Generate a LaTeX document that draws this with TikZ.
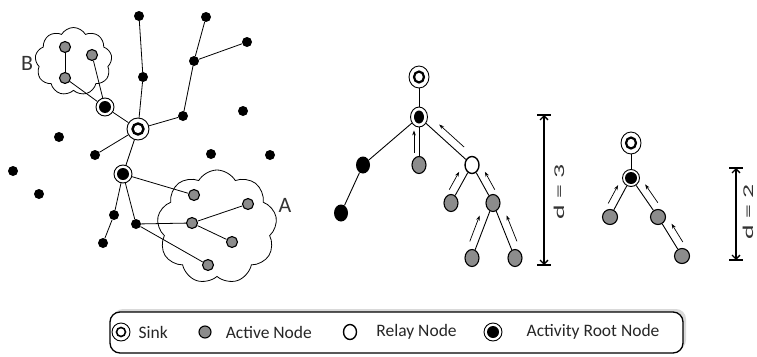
\documentclass[tikz,border=0pt]{standalone}
\usepackage{fontspec}
\setmainfont{Carlito}
\usetikzlibrary{arrows.meta, positioning, calc, shapes.geometric, shapes.symbols, shadows}

\begin{document}
\begin{tikzpicture}[
    x=1pt, y=-1pt,
    every node/.style={text=labelcolor},
    blk/.style={circle, fill=black, inner sep=0pt, minimum size=10pt},
    act/.style={circle, draw=black, fill=actgray, line width=1.1pt, inner sep=0pt, minimum size=11pt},
    relay/.style={ellipse, draw=black, fill=white, line width=1.4pt, inner sep=0pt,
        minimum width=14pt, minimum height=17pt},
    sink/.style={circle, draw=black, fill=white, line width=0.9pt, inner sep=0pt, minimum size=22pt,
        path picture={\draw[black, line width=2.4pt] (path picture bounding box.center) circle (5.5pt);}},
    root/.style={circle, draw=black, fill=white, line width=0.9pt, inner sep=0pt, minimum size=18pt,
        path picture={\fill[black] (path picture bounding box.center) circle (6pt);}},
    % tree nodes are a bit taller than wide
    tblk/.style={blk, ellipse, minimum width=14pt, minimum height=17pt},
    tact/.style={act, ellipse, minimum width=14pt, minimum height=17pt},
    tsink/.style={sink, ellipse, minimum width=20pt, minimum height=22pt,
        path picture={\draw[black, line width=2.2pt] (path picture bounding box.center) ellipse (5pt and 5.5pt);}},
    troot/.style={root, ellipse, minimum width=17pt, minimum height=20pt,
        path picture={\fill[black] (path picture bounding box.center) ellipse (5pt and 6.5pt);}},
    link/.style={line width=0.8pt},
    flow/.style={-{Stealth[length=5pt, width=3.6pt]}, line width=0.7pt},
    dimline/.style={{Straight Barb[length=4pt, width=8pt]}-{Straight Barb[length=4pt, width=8pt]},
        line width=1.3pt},
    grplbl/.style={font=\fontsize{22}{24}\selectfont},
    dimlbl/.style={font=\fontsize{15}{17}\selectfont, rotate=90, inner sep=0pt},
    ltxt/.style={font=\fontsize{17.5}{20}\selectfont, text=black!85, inner sep=0pt, anchor=west},
]

\definecolor{actgray}{HTML}{8C8C8C}   % active nodes
\definecolor{labelcolor}{HTML}{333333}

\useasboundingbox (0,0) rectangle (757,356);

% ================================================================
%   left: the whole field, sink in the middle, two groups A and B
%   middle: tree of group A with d = 3, right: tree of B with d = 2
% ================================================================

% ---------------------------------------------------------------- clouds
\node[cloud, cloud puffs=9, cloud puff arc=120, cloud ignores aspect, draw=black, line width=0.8pt,
    inner sep=0pt, minimum width=77pt, minimum height=68pt] (cloudB) at (73.5,61.5) {};
\node[cloud, cloud puffs=9, cloud puff arc=120, cloud ignores aspect, draw=black, line width=0.8pt,
    inner sep=0pt, minimum width=120pt, minimum height=114pt] (cloudA) at (217,227) {};
\node[grplbl] (labB) at (27,63) {B};
\node[grplbl] (labA) at (285,205) {A};

% ---------------------------------------------------------------- field
\foreach \n/\x/\y in {n1/139/16, n2/206/17, n3/247/42, n4/194/61, n5/143/77, n6/183/116,
    n7/243/111, n8/59/137, n9/95/155, n10/211/154, n11/270/155, n12/13/171,
    n13/39/194, n14/114/215, n15/136/224, n16/103/243} {
    \node[blk] (\n) at (\x,\y) {};
}
\foreach \n/\x/\y in {gB1/65/47, gB2/92/55, gB3/65/78,
    gA1/194/195, gA2/248/204, gA3/192/223, gA4/232/242, gA5/208/265} {
    \node[act] (\n) at (\x,\y) {};
}
\node[sink] (sink) at (138,129) {};
\node[root] (rootB) at (105,107) {};
\node[root] (rootA) at (123,174) {};

\foreach \a/\b in {n1/n5, n5/sink, n2/n4, n3/n4, n4/n6, n6/sink, sink/rootB,
    rootB/gB3, gB3/gB1, rootB/gB2, sink/n9, sink/rootA, rootA/gA1, rootA/n14,
    n14/n16, rootA/n15, n15/gA3, gA3/gA2, gA3/gA4, n15/gA5} {
    \draw[link] (\a) -- (\b);
}

% ---------------------------------------------------------------- tree of A
\node[tsink] (msink) at (419,77) {};
\node[troot] (mroot) at (419,117) {};
\node[tblk] (mb1) at (363,165) {};
\node[tblk] (mb2) at (341,213) {};
\node[tact] (mg) at (419,165) {};
\node[relay] (mrelay) at (472,165) {};
\node[tact] (mg1) at (451,203) {};
\node[tact] (mg2) at (493,203) {};
\node[tact] (mg3) at (472,258) {};
\node[tact] (mg4) at (515,258) {};

\foreach \a/\b in {msink/mroot, mroot/mb1, mb1/mb2, mroot/mg, mroot/mrelay,
    mrelay/mg1, mrelay/mg2, mg2/mg3, mg2/mg4} {
    \draw[link, line width=0.9pt] (\a) -- (\b);
}

% ---------------------------------------------------------------- tree of B
\node[tsink] (rsink) at (631,143) {};
\node[root, minimum size=17pt] (rroot) at (631,178) {};
\node[act, minimum size=15pt] (rg1) at (610,217) {};
\node[act, minimum size=15pt] (rg2) at (658,217) {};
\node[act, minimum size=15pt] (rg3) at (682,256) {};

\foreach \a/\b in {rsink/rroot, rroot/rg1, rroot/rg2, rg2/rg3} {
    \draw[link, line width=0.9pt] (\a) -- (\b);
}

% ---------------------------------------------------------------- reports towards the root
\foreach \a/\b/\d/\ang in {mg/mroot/5pt/90, mrelay/mroot/8pt/-90, mg1/mrelay/8pt/90,
    mg2/mrelay/8pt/-90, mg3/mg2/8pt/90, mg4/mg2/8pt/-90,
    rg1/rroot/8pt/90, rg2/rroot/8pt/-90, rg3/rg2/8pt/-90} {
    \draw[flow] ($(\a)!0.25!(\b)!\d!\ang:(\b)$) -- ($(\a)!0.72!(\b)!\d!\ang:(\b)$);
}

% ---------------------------------------------------------------- depths
\coordinate (d3top) at (544,115);
\coordinate (d3bot) at (544,265);
\draw[dimline] (d3top) -- (d3bot);
\draw[line width=1.3pt] ([xshift=-7pt]d3top) -- ([xshift=7pt]d3top);
\draw[line width=1.3pt] ([xshift=-7pt]d3bot) -- ([xshift=7pt]d3bot);
\node[dimlbl] (d3lbl) at (559,192) {\scalebox{1.85}[1]{d = 3}};

\coordinate (d2top) at (736,168);
\coordinate (d2bot) at (736,260);
\draw[dimline] (d2top) -- (d2bot);
\draw[line width=1.3pt] ([xshift=-7pt]d2top) -- ([xshift=7pt]d2top);
\draw[line width=1.3pt] ([xshift=-7pt]d2bot) -- ([xshift=7pt]d2bot);
\node[dimlbl] (d2lbl) at (748,212) {\scalebox{1.85}[1]{d = 2}};

% ---------------------------------------------------------------- legend
\node[draw=black, line width=1.3pt, fill=white, rounded corners=10pt, minimum width=573pt,
    minimum height=41pt, drop shadow={opacity=0.3, shadow xshift=3pt, shadow yshift=3pt}]
    (legend) at (396.5,332.5) {};
\node[sink, minimum size=18pt, path picture={\draw[black, line width=1.6pt]
    (path picture bounding box.center) circle (4.5pt);}] (lsink) at (121,332) {};
\node[ltxt, right=8pt of lsink] (lsinktxt) {Sink};
\node[act, minimum size=12pt] (lact) at (205,332) {};
\node[ltxt, right=14pt of lact] (lacttxt) {Active Node};
\node[relay, minimum width=13pt, minimum height=15pt] (lrelay) at (350,332) {};
\node[ltxt, right=19pt of lrelay] (lrelaytxt) {Relay Node};
\node[root] (lroot) at (493,332) {};
\node[ltxt, right=24pt of lroot] (lroottxt) {Activity Root Node};

\end{tikzpicture}
\end{document}
